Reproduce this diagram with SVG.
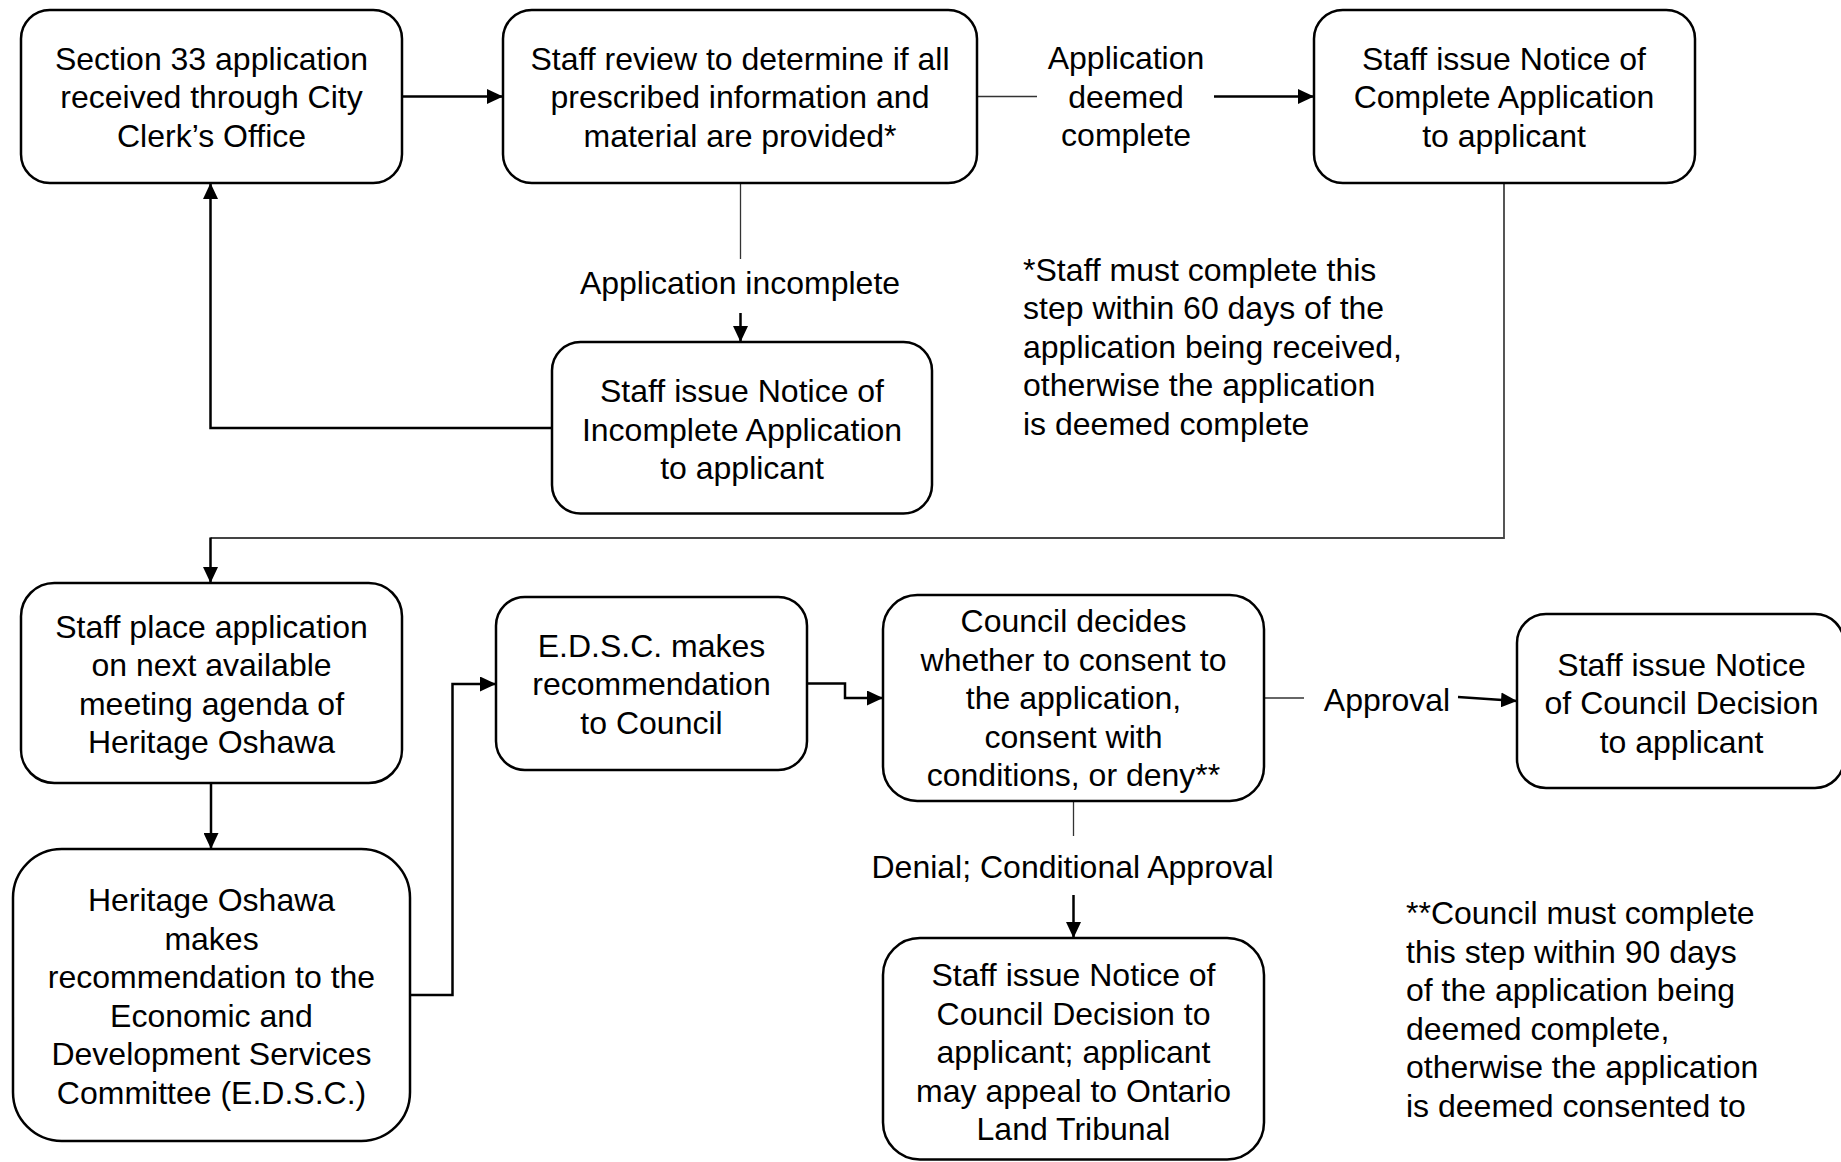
<svg xmlns="http://www.w3.org/2000/svg" width="1841" height="1162" viewBox="0 0 1841 1162">
<defs>
<marker id="ah" markerUnits="userSpaceOnUse" markerWidth="17" markerHeight="15" refX="16" refY="7.5" orient="auto">
<path d="M0,0 L16,7.5 L0,15 z" fill="#000"/>
</marker>
<style>
.box{fill:#fff;stroke:#000;stroke-width:2.5}
.t{font-family:"Liberation Sans",Arial,sans-serif;font-size:32px;fill:#000;text-anchor:middle}
.n{font-family:"Liberation Sans",Arial,sans-serif;font-size:32px;fill:#000;text-anchor:start}
.a{fill:none;stroke:#000;stroke-width:2.5;marker-end:url(#ah)}
.thin{fill:none;stroke:#333;stroke-width:1.3}
.gray{fill:none;stroke:#444;stroke-width:1.8}
</style>
</defs>
<rect width="1841" height="1162" fill="#fff"/>

<g id="connectors">
<path class="a" d="M402,96.5 H503"/>
<path class="thin" d="M977,96.5 H1037"/>
<path class="a" d="M1214,96.5 H1314"/>
<path class="thin" d="M740.5,183 V259"/>
<path class="a" d="M740.5,313 V342"/>
<path class="a" d="M552,428 H210.5 V183"/>
<path class="gray" d="M1504,183 V538 H210.5"/>
<path class="a" d="M210.5,537.5 V583"/>
<path class="a" d="M211,783 V849"/>
<path class="a" d="M410,995 H452.5 V684 H496"/>
<path class="a" d="M807,683.5 H845 V698 H883"/>
<path class="thin" d="M1264,698 H1304"/>
<path class="a" d="M1458,697 L1517,701"/>
<path class="thin" d="M1073.5,801 V836"/>
<path class="a" d="M1073.5,895 V938"/>
</g>

<g id="lbl-complete">
<text class="t"><tspan x="1126" y="69">Application</tspan><tspan x="1126" y="107.5">deemed</tspan><tspan x="1126" y="146">complete</tspan></text>
</g>
<g id="lbl-incomplete">
<text class="t" x="740" y="294">Application incomplete</text>
</g>
<g id="lbl-approval">
<text class="t" x="1387" y="711">Approval</text>
</g>
<g id="lbl-denial">
<text class="t" x="1072.5" y="877.5">Denial; Conditional Approval</text>
</g>

<g id="n1">
<rect class="box" x="21" y="10" width="381" height="173" rx="28.8"/>
<text class="t"><tspan x="211.5" y="69.5">Section 33 application</tspan><tspan x="211.5" y="108">received through City</tspan><tspan x="211.5" y="146.5">Clerk’s Office</tspan></text>
</g>
<g id="n2">
<rect class="box" x="503" y="10" width="474" height="173" rx="28.8"/>
<text class="t"><tspan x="740" y="69.5">Staff review to determine if all</tspan><tspan x="740" y="108">prescribed information and</tspan><tspan x="740" y="146.5">material are provided*</tspan></text>
</g>
<g id="n3">
<rect class="box" x="1314" y="10" width="381" height="173" rx="28.8"/>
<text class="t"><tspan x="1504" y="69.5">Staff issue Notice of</tspan><tspan x="1504" y="108">Complete Application</tspan><tspan x="1504" y="146.5">to applicant</tspan></text>
</g>
<g id="n4">
<rect class="box" x="552" y="342" width="380" height="171.5" rx="28.5"/>
<text class="t"><tspan x="742" y="402">Staff issue Notice of</tspan><tspan x="742" y="440.5">Incomplete Application</tspan><tspan x="742" y="479">to applicant</tspan></text>
</g>
<g id="note1">
<text class="n"><tspan x="1023" y="280.5">*Staff must complete this</tspan><tspan x="1023" y="319">step within 60 days of the</tspan><tspan x="1023" y="357.5">application being received,</tspan><tspan x="1023" y="396">otherwise the application</tspan><tspan x="1023" y="434.5">is deemed complete</tspan></text>
</g>
<g id="n5">
<rect class="box" x="21" y="583" width="381" height="200" rx="33.3"/>
<text class="t"><tspan x="211.5" y="637.5">Staff place application</tspan><tspan x="211.5" y="676">on next available</tspan><tspan x="211.5" y="714.5">meeting agenda of</tspan><tspan x="211.5" y="753">Heritage Oshawa</tspan></text>
</g>
<g id="n6">
<rect class="box" x="13" y="849" width="397" height="292" rx="48.7"/>
<text class="t"><tspan x="211.5" y="911">Heritage Oshawa</tspan><tspan x="211.5" y="949.5">makes</tspan><tspan x="211.5" y="988">recommendation to the</tspan><tspan x="211.5" y="1026.5">Economic and</tspan><tspan x="211.5" y="1065">Development Services</tspan><tspan x="211.5" y="1103.5">Committee (E.D.S.C.)</tspan></text>
</g>
<g id="n7">
<rect class="box" x="496" y="597" width="311" height="173" rx="28.8"/>
<text class="t"><tspan x="651.5" y="656.5">E.D.S.C. makes</tspan><tspan x="651.5" y="695">recommendation</tspan><tspan x="651.5" y="733.5">to Council</tspan></text>
</g>
<g id="n8">
<rect class="box" x="883" y="595" width="381" height="206" rx="34.3"/>
<text class="t"><tspan x="1073.5" y="632">Council decides</tspan><tspan x="1073.5" y="670.5">whether to consent to</tspan><tspan x="1073.5" y="709">the application,</tspan><tspan x="1073.5" y="747.5">consent with</tspan><tspan x="1073.5" y="786">conditions, or deny**</tspan></text>
</g>
<g id="n9">
<rect class="box" x="1517" y="614" width="327" height="174" rx="29"/>
<text class="t"><tspan x="1681.5" y="675.5">Staff issue Notice</tspan><tspan x="1681.5" y="714">of Council Decision</tspan><tspan x="1681.5" y="752.5">to applicant</tspan></text>
</g>
<g id="n10">
<rect class="box" x="883" y="938" width="381" height="221.5" rx="36.9"/>
<text class="t"><tspan x="1073.5" y="986">Staff issue Notice of</tspan><tspan x="1073.5" y="1024.5">Council Decision to</tspan><tspan x="1073.5" y="1063">applicant; applicant</tspan><tspan x="1073.5" y="1101.5">may appeal to Ontario</tspan><tspan x="1073.5" y="1140">Land Tribunal</tspan></text>
</g>
<g id="note2">
<text class="n"><tspan x="1406" y="924">**Council must complete</tspan><tspan x="1406" y="962.5">this step within 90 days</tspan><tspan x="1406" y="1001">of the application being</tspan><tspan x="1406" y="1039.5">deemed complete,</tspan><tspan x="1406" y="1078">otherwise the application</tspan><tspan x="1406" y="1116.5">is deemed consented to</tspan></text>
</g>
</svg>
